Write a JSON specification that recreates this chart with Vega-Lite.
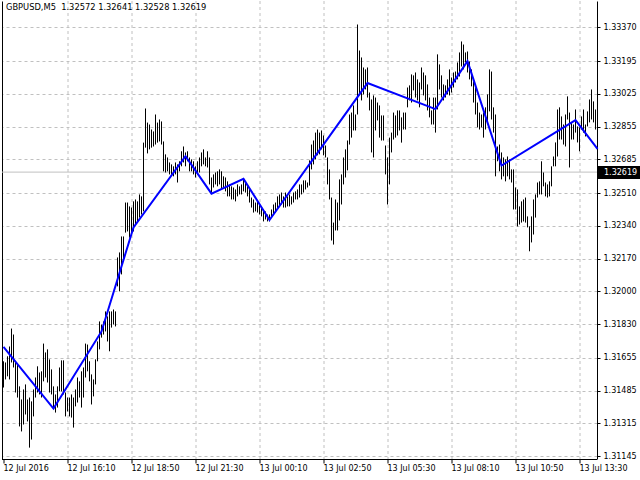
{
"$schema":"https://vega.github.io/schema/vega-lite/v6.json",
"width":595,"height":458,
"autosize":{"type":"none"},
"padding":{"left":2,"top":1,"right":43,"bottom":21},
"background":"#ffffff",
"title":{"text":"GBPUSD,M5\u00a0 1.32572 1.32641 1.32528 1.32619","anchor":"start","frame":"group","orient":"top","baseline":"top","offset":-10,"dx":4,"font":"DejaVu Sans","fontSize":8.3,"fontWeight":"normal","color":"#000000"},
"datasets":{
"bars":[
{"t":"2016-07-12T13:30","h":1.31637,"l":1.31501},{"t":"2016-07-12T13:35","h":1.31631,"l":1.31543},{"t":"2016-07-12T13:40","h":1.31663,"l":1.31559},{"t":"2016-07-12T13:45","h":1.31714,"l":1.31543},{"t":"2016-07-12T13:50","h":1.31807,"l":1.31631},{"t":"2016-07-12T13:55","h":1.31776,"l":1.31605},
{"t":"2016-07-12T14:00","h":1.31637,"l":1.31475},{"t":"2016-07-12T14:05","h":1.31621,"l":1.31449},{"t":"2016-07-12T14:10","h":1.31507,"l":1.31299},{"t":"2016-07-12T14:15","h":1.31439,"l":1.31273},{"t":"2016-07-12T14:20","h":1.31491,"l":1.31309},{"t":"2016-07-12T14:25","h":1.31517,"l":1.31361},
{"t":"2016-07-12T14:30","h":1.31439,"l":1.31325},{"t":"2016-07-12T14:35","h":1.31449,"l":1.31189},{"t":"2016-07-12T14:40","h":1.31429,"l":1.31231},{"t":"2016-07-12T14:45","h":1.31491,"l":1.31351},{"t":"2016-07-12T14:50","h":1.31553,"l":1.31449},{"t":"2016-07-12T14:55","h":1.31611,"l":1.31475},
{"t":"2016-07-12T15:00","h":1.31579,"l":1.31465},{"t":"2016-07-12T15:05","h":1.31585,"l":1.31449},{"t":"2016-07-12T15:10","h":1.31729,"l":1.31533},{"t":"2016-07-12T15:15","h":1.31683,"l":1.31553},{"t":"2016-07-12T15:20","h":1.31699,"l":1.31527},{"t":"2016-07-12T15:25","h":1.31647,"l":1.31475},
{"t":"2016-07-12T15:30","h":1.31595,"l":1.31465},{"t":"2016-07-12T15:35","h":1.31507,"l":1.31397},{"t":"2016-07-12T15:40","h":1.31465,"l":1.31371},{"t":"2016-07-12T15:45","h":1.31507,"l":1.31397},{"t":"2016-07-12T15:50","h":1.31605,"l":1.31481},{"t":"2016-07-12T15:55","h":1.31642,"l":1.31481},
{"t":"2016-07-12T16:00","h":1.31642,"l":1.31465},{"t":"2016-07-12T16:05","h":1.31475,"l":1.31351},{"t":"2016-07-12T16:10","h":1.31449,"l":1.31377},{"t":"2016-07-12T16:15","h":1.31449,"l":1.31351},{"t":"2016-07-12T16:20","h":1.31465,"l":1.31345},{"t":"2016-07-12T16:25","h":1.31449,"l":1.31293},
{"t":"2016-07-12T16:30","h":1.31491,"l":1.31403},{"t":"2016-07-12T16:35","h":1.31553,"l":1.31423},{"t":"2016-07-12T16:40","h":1.31533,"l":1.31449},{"t":"2016-07-12T16:45","h":1.31585,"l":1.31397},{"t":"2016-07-12T16:50","h":1.31605,"l":1.31449},{"t":"2016-07-12T16:55","h":1.31729,"l":1.31553},
{"t":"2016-07-12T17:00","h":1.31724,"l":1.31585},{"t":"2016-07-12T17:05","h":1.31637,"l":1.31533},{"t":"2016-07-12T17:10","h":1.31569,"l":1.31413},{"t":"2016-07-12T17:15","h":1.31543,"l":1.31455},{"t":"2016-07-12T17:20","h":1.31647,"l":1.31517},{"t":"2016-07-12T17:25","h":1.31740,"l":1.31637},
{"t":"2016-07-12T17:30","h":1.31844,"l":1.31699},{"t":"2016-07-12T17:35","h":1.31828,"l":1.31760},{"t":"2016-07-12T17:40","h":1.31844,"l":1.31776},{"t":"2016-07-12T17:45","h":1.31896,"l":1.31792},{"t":"2016-07-12T17:50","h":1.31870,"l":1.31740},{"t":"2016-07-12T17:55","h":1.31896,"l":1.31689},
{"t":"2016-07-12T18:00","h":1.31896,"l":1.31812},{"t":"2016-07-12T18:05","h":1.31906,"l":1.31828},{"t":"2016-07-12T18:10","h":1.31896,"l":1.31818},{"t":"2016-07-12T18:15","h":1.32176,"l":1.32026},{"t":"2016-07-12T18:20","h":1.32202,"l":1.32000},{"t":"2016-07-12T18:25","h":1.32285,"l":1.32088},
{"t":"2016-07-12T18:30","h":1.32285,"l":1.32156},{"t":"2016-07-12T18:35","h":1.32461,"l":1.32305},{"t":"2016-07-12T18:40","h":1.32461,"l":1.32311},{"t":"2016-07-12T18:45","h":1.32441,"l":1.32279},{"t":"2016-07-12T18:50","h":1.32435,"l":1.32305},{"t":"2016-07-12T18:55","h":1.32467,"l":1.32311},
{"t":"2016-07-12T19:00","h":1.32477,"l":1.32347},{"t":"2016-07-12T19:05","h":1.32467,"l":1.32363},{"t":"2016-07-12T19:10","h":1.32503,"l":1.32383},{"t":"2016-07-12T19:15","h":1.32493,"l":1.32399},{"t":"2016-07-12T19:20","h":1.32772,"l":1.32415},{"t":"2016-07-12T19:25","h":1.32949,"l":1.32746},
{"t":"2016-07-12T19:30","h":1.32876,"l":1.32716},{"t":"2016-07-12T19:35","h":1.32866,"l":1.32737},{"t":"2016-07-12T19:40","h":1.32840,"l":1.32746},{"t":"2016-07-12T19:45","h":1.32830,"l":1.32752},{"t":"2016-07-12T19:50","h":1.32918,"l":1.32762},{"t":"2016-07-12T19:55","h":1.32876,"l":1.32772},
{"t":"2016-07-12T20:00","h":1.32892,"l":1.32778},{"t":"2016-07-12T20:05","h":1.32882,"l":1.32762},{"t":"2016-07-12T20:10","h":1.32778,"l":1.32623},{"t":"2016-07-12T20:15","h":1.32711,"l":1.32617},{"t":"2016-07-12T20:20","h":1.32695,"l":1.32623},{"t":"2016-07-12T20:25","h":1.32669,"l":1.32607},
{"t":"2016-07-12T20:30","h":1.32659,"l":1.32607},{"t":"2016-07-12T20:35","h":1.32649,"l":1.32597},{"t":"2016-07-12T20:40","h":1.32669,"l":1.32607},{"t":"2016-07-12T20:45","h":1.32659,"l":1.32565},{"t":"2016-07-12T20:50","h":1.32675,"l":1.32623},{"t":"2016-07-12T20:55","h":1.32727,"l":1.32649},
{"t":"2016-07-12T21:00","h":1.32752,"l":1.32669},{"t":"2016-07-12T21:05","h":1.32721,"l":1.32649},{"t":"2016-07-12T21:10","h":1.32727,"l":1.32675},{"t":"2016-07-12T21:15","h":1.32695,"l":1.32623},{"t":"2016-07-12T21:20","h":1.32685,"l":1.32623},{"t":"2016-07-12T21:25","h":1.32675,"l":1.32607},
{"t":"2016-07-12T21:30","h":1.32649,"l":1.32591},{"t":"2016-07-12T21:35","h":1.32675,"l":1.32607},{"t":"2016-07-12T21:40","h":1.32695,"l":1.32617},{"t":"2016-07-12T21:45","h":1.32721,"l":1.32649},{"t":"2016-07-12T21:50","h":1.32737,"l":1.32659},{"t":"2016-07-12T21:55","h":1.32695,"l":1.32649},
{"t":"2016-07-12T22:00","h":1.32727,"l":1.32643},{"t":"2016-07-12T22:05","h":1.32695,"l":1.32555},{"t":"2016-07-12T22:10","h":1.32591,"l":1.32513},{"t":"2016-07-12T22:15","h":1.32607,"l":1.32539},{"t":"2016-07-12T22:20","h":1.32617,"l":1.32555},{"t":"2016-07-12T22:25","h":1.32623,"l":1.32545},
{"t":"2016-07-12T22:30","h":1.32633,"l":1.32555},{"t":"2016-07-12T22:35","h":1.32623,"l":1.32529},{"t":"2016-07-12T22:40","h":1.32597,"l":1.32539},{"t":"2016-07-12T22:45","h":1.32591,"l":1.32519},{"t":"2016-07-12T22:50","h":1.32571,"l":1.32493},{"t":"2016-07-12T22:55","h":1.32555,"l":1.32493},
{"t":"2016-07-12T23:00","h":1.32545,"l":1.32477},{"t":"2016-07-12T23:05","h":1.32539,"l":1.32477},{"t":"2016-07-12T23:10","h":1.32529,"l":1.32467},{"t":"2016-07-12T23:15","h":1.32555,"l":1.32493},{"t":"2016-07-12T23:20","h":1.32545,"l":1.32503},{"t":"2016-07-12T23:25","h":1.32555,"l":1.32503},
{"t":"2016-07-12T23:30","h":1.32581,"l":1.32519},{"t":"2016-07-12T23:35","h":1.32571,"l":1.32513},{"t":"2016-07-12T23:40","h":1.32555,"l":1.32493},{"t":"2016-07-12T23:45","h":1.32539,"l":1.32461},{"t":"2016-07-12T23:50","h":1.32487,"l":1.32435},{"t":"2016-07-12T23:55","h":1.32477,"l":1.32409},
{"t":"2016-07-13T00:00","h":1.32461,"l":1.32415},{"t":"2016-07-13T00:05","h":1.32467,"l":1.32409},{"t":"2016-07-13T00:10","h":1.32451,"l":1.32399},{"t":"2016-07-13T00:15","h":1.32441,"l":1.32389},{"t":"2016-07-13T00:20","h":1.32425,"l":1.32363},{"t":"2016-07-13T00:25","h":1.32415,"l":1.32373},
{"t":"2016-07-13T00:30","h":1.32399,"l":1.32363},{"t":"2016-07-13T00:35","h":1.32399,"l":1.32363},{"t":"2016-07-13T00:40","h":1.32425,"l":1.32389},{"t":"2016-07-13T00:45","h":1.32451,"l":1.32399},{"t":"2016-07-13T00:50","h":1.32461,"l":1.32409},{"t":"2016-07-13T00:55","h":1.32493,"l":1.32425},
{"t":"2016-07-13T01:00","h":1.32503,"l":1.32441},{"t":"2016-07-13T01:05","h":1.32513,"l":1.32451},{"t":"2016-07-13T01:10","h":1.32493,"l":1.32435},{"t":"2016-07-13T01:15","h":1.32513,"l":1.32435},{"t":"2016-07-13T01:20","h":1.32493,"l":1.32441},{"t":"2016-07-13T01:25","h":1.32503,"l":1.32441},
{"t":"2016-07-13T01:30","h":1.32493,"l":1.32451},{"t":"2016-07-13T01:35","h":1.32513,"l":1.32461},{"t":"2016-07-13T01:40","h":1.32519,"l":1.32477},{"t":"2016-07-13T01:45","h":1.32529,"l":1.32477},{"t":"2016-07-13T01:50","h":1.32555,"l":1.32487},{"t":"2016-07-13T01:55","h":1.32555,"l":1.32503},
{"t":"2016-07-13T02:00","h":1.32576,"l":1.32513},{"t":"2016-07-13T02:05","h":1.32576,"l":1.32529},{"t":"2016-07-13T02:10","h":1.32565,"l":1.32539},{"t":"2016-07-13T02:15","h":1.32680,"l":1.32549},{"t":"2016-07-13T02:20","h":1.32762,"l":1.32633},{"t":"2016-07-13T02:25","h":1.32783,"l":1.32659},
{"t":"2016-07-13T02:30","h":1.32824,"l":1.32685},{"t":"2016-07-13T02:35","h":1.32840,"l":1.32706},{"t":"2016-07-13T02:40","h":1.32824,"l":1.32711},{"t":"2016-07-13T02:45","h":1.32835,"l":1.32737},{"t":"2016-07-13T02:50","h":1.32809,"l":1.32706},{"t":"2016-07-13T02:55","h":1.32757,"l":1.32695},
{"t":"2016-07-13T03:00","h":1.32695,"l":1.32555},{"t":"2016-07-13T03:05","h":1.32633,"l":1.32477},{"t":"2016-07-13T03:10","h":1.32487,"l":1.32264},{"t":"2016-07-13T03:15","h":1.32357,"l":1.32243},{"t":"2016-07-13T03:20","h":1.32477,"l":1.32316},{"t":"2016-07-13T03:25","h":1.32461,"l":1.32316},
{"t":"2016-07-13T03:30","h":1.32581,"l":1.32368},{"t":"2016-07-13T03:35","h":1.32607,"l":1.32451},{"t":"2016-07-13T03:40","h":1.32695,"l":1.32555},{"t":"2016-07-13T03:45","h":1.32737,"l":1.32591},{"t":"2016-07-13T03:50","h":1.32783,"l":1.32628},{"t":"2016-07-13T03:55","h":1.32918,"l":1.32762},
{"t":"2016-07-13T04:00","h":1.32928,"l":1.32798},{"t":"2016-07-13T04:05","h":1.32965,"l":1.32835},{"t":"2016-07-13T04:10","h":1.32918,"l":1.32835},{"t":"2016-07-13T04:15","h":1.33385,"l":1.32918},{"t":"2016-07-13T04:20","h":1.33250,"l":1.33022},{"t":"2016-07-13T04:25","h":1.33214,"l":1.32991},
{"t":"2016-07-13T04:30","h":1.33162,"l":1.33022},{"t":"2016-07-13T04:35","h":1.33152,"l":1.33048},{"t":"2016-07-13T04:40","h":1.33162,"l":1.33006},{"t":"2016-07-13T04:45","h":1.33032,"l":1.32939},{"t":"2016-07-13T04:50","h":1.32996,"l":1.32721},{"t":"2016-07-13T04:55","h":1.33017,"l":1.32695},
{"t":"2016-07-13T05:00","h":1.33006,"l":1.32835},{"t":"2016-07-13T05:05","h":1.32980,"l":1.32887},{"t":"2016-07-13T05:10","h":1.32965,"l":1.32798},{"t":"2016-07-13T05:15","h":1.32913,"l":1.32783},{"t":"2016-07-13T05:20","h":1.32913,"l":1.32783},{"t":"2016-07-13T05:25","h":1.32757,"l":1.32607},
{"t":"2016-07-13T05:30","h":1.32695,"l":1.32451},{"t":"2016-07-13T05:35","h":1.32798,"l":1.32555},{"t":"2016-07-13T05:40","h":1.32824,"l":1.32721},{"t":"2016-07-13T05:45","h":1.32928,"l":1.32788},{"t":"2016-07-13T05:50","h":1.32913,"l":1.32798},{"t":"2016-07-13T05:55","h":1.32939,"l":1.32809},
{"t":"2016-07-13T06:00","h":1.32939,"l":1.32835},{"t":"2016-07-13T06:05","h":1.32903,"l":1.32772},{"t":"2016-07-13T06:10","h":1.32928,"l":1.32840},{"t":"2016-07-13T06:15","h":1.32928,"l":1.32840},{"t":"2016-07-13T06:20","h":1.33058,"l":1.32955},{"t":"2016-07-13T06:25","h":1.33069,"l":1.32991},
{"t":"2016-07-13T06:30","h":1.33126,"l":1.32980},{"t":"2016-07-13T06:35","h":1.33121,"l":1.33043},{"t":"2016-07-13T06:40","h":1.33136,"l":1.33006},{"t":"2016-07-13T06:45","h":1.33100,"l":1.32991},{"t":"2016-07-13T06:50","h":1.33084,"l":1.32955},{"t":"2016-07-13T06:55","h":1.33162,"l":1.33048},
{"t":"2016-07-13T07:00","h":1.33136,"l":1.33017},{"t":"2016-07-13T07:05","h":1.33121,"l":1.32991},{"t":"2016-07-13T07:10","h":1.33074,"l":1.32939},{"t":"2016-07-13T07:15","h":1.33006,"l":1.32903},{"t":"2016-07-13T07:20","h":1.32939,"l":1.32866},{"t":"2016-07-13T07:25","h":1.33006,"l":1.32866},
{"t":"2016-07-13T07:30","h":1.33006,"l":1.32824},{"t":"2016-07-13T07:35","h":1.33230,"l":1.32944},{"t":"2016-07-13T07:40","h":1.33178,"l":1.33048},{"t":"2016-07-13T07:45","h":1.33121,"l":1.33006},{"t":"2016-07-13T07:50","h":1.33074,"l":1.32991},{"t":"2016-07-13T07:55","h":1.33069,"l":1.33006},
{"t":"2016-07-13T08:00","h":1.33100,"l":1.33022},{"t":"2016-07-13T08:05","h":1.33152,"l":1.33017},{"t":"2016-07-13T08:10","h":1.33110,"l":1.33032},{"t":"2016-07-13T08:15","h":1.33136,"l":1.33058},{"t":"2016-07-13T08:20","h":1.33141,"l":1.33084},{"t":"2016-07-13T08:25","h":1.33188,"l":1.33100},
{"t":"2016-07-13T08:30","h":1.33240,"l":1.33115},{"t":"2016-07-13T08:35","h":1.33297,"l":1.33167},{"t":"2016-07-13T08:40","h":1.33281,"l":1.33152},{"t":"2016-07-13T08:45","h":1.33240,"l":1.33188},{"t":"2016-07-13T08:50","h":1.33245,"l":1.33136},{"t":"2016-07-13T08:55","h":1.33193,"l":1.33100},
{"t":"2016-07-13T09:00","h":1.33152,"l":1.33064},{"t":"2016-07-13T09:05","h":1.33090,"l":1.32980},{"t":"2016-07-13T09:10","h":1.33058,"l":1.32918},{"t":"2016-07-13T09:15","h":1.32980,"l":1.32851},{"t":"2016-07-13T09:20","h":1.32928,"l":1.32840},{"t":"2016-07-13T09:25","h":1.32918,"l":1.32851},
{"t":"2016-07-13T09:30","h":1.32928,"l":1.32798},{"t":"2016-07-13T09:35","h":1.32955,"l":1.32840},{"t":"2016-07-13T09:40","h":1.33022,"l":1.32877},{"t":"2016-07-13T09:45","h":1.33152,"l":1.32934},{"t":"2016-07-13T09:50","h":1.33141,"l":1.32892},{"t":"2016-07-13T09:55","h":1.32955,"l":1.32824},
{"t":"2016-07-13T10:00","h":1.32918,"l":1.32597},{"t":"2016-07-13T10:05","h":1.32752,"l":1.32675},{"t":"2016-07-13T10:10","h":1.32762,"l":1.32623},{"t":"2016-07-13T10:15","h":1.32721,"l":1.32581},{"t":"2016-07-13T10:20","h":1.32695,"l":1.32597},{"t":"2016-07-13T10:25","h":1.32685,"l":1.32571},
{"t":"2016-07-13T10:30","h":1.32700,"l":1.32597},{"t":"2016-07-13T10:35","h":1.32685,"l":1.32581},{"t":"2016-07-13T10:40","h":1.32633,"l":1.32565},{"t":"2016-07-13T10:45","h":1.32633,"l":1.32425},{"t":"2016-07-13T10:50","h":1.32539,"l":1.32425},{"t":"2016-07-13T10:55","h":1.32529,"l":1.32337},
{"t":"2016-07-13T11:00","h":1.32441,"l":1.32347},{"t":"2016-07-13T11:05","h":1.32467,"l":1.32357},{"t":"2016-07-13T11:10","h":1.32477,"l":1.32363},{"t":"2016-07-13T11:15","h":1.32487,"l":1.32357},{"t":"2016-07-13T11:20","h":1.32389,"l":1.32332},{"t":"2016-07-13T11:25","h":1.32337,"l":1.32208},
{"t":"2016-07-13T11:30","h":1.32389,"l":1.32254},{"t":"2016-07-13T11:35","h":1.32477,"l":1.32295},{"t":"2016-07-13T11:40","h":1.32503,"l":1.32383},{"t":"2016-07-13T11:45","h":1.32565,"l":1.32487},{"t":"2016-07-13T11:50","h":1.32571,"l":1.32503},{"t":"2016-07-13T11:55","h":1.32675,"l":1.32503},
{"t":"2016-07-13T12:00","h":1.32617,"l":1.32545},{"t":"2016-07-13T12:05","h":1.32565,"l":1.32493},{"t":"2016-07-13T12:10","h":1.32555,"l":1.32487},{"t":"2016-07-13T12:15","h":1.32571,"l":1.32493},{"t":"2016-07-13T12:20","h":1.32649,"l":1.32545},{"t":"2016-07-13T12:25","h":1.32700,"l":1.32649},
{"t":"2016-07-13T12:30","h":1.32773,"l":1.32649},{"t":"2016-07-13T12:35","h":1.32944,"l":1.32700},{"t":"2016-07-13T12:40","h":1.32955,"l":1.32788},{"t":"2016-07-13T12:45","h":1.32908,"l":1.32788},{"t":"2016-07-13T12:50","h":1.32866,"l":1.32762},{"t":"2016-07-13T12:55","h":1.32918,"l":1.32752},
{"t":"2016-07-13T13:00","h":1.33012,"l":1.32892},{"t":"2016-07-13T13:05","h":1.32928,"l":1.32643},{"t":"2016-07-13T13:10","h":1.32877,"l":1.32788},{"t":"2016-07-13T13:15","h":1.32866,"l":1.32788},{"t":"2016-07-13T13:20","h":1.32944,"l":1.32824},{"t":"2016-07-13T13:25","h":1.32856,"l":1.32773},
{"t":"2016-07-13T13:30","h":1.32851,"l":1.32727},{"t":"2016-07-13T13:35","h":1.32908,"l":1.32840},{"t":"2016-07-13T13:40","h":1.32944,"l":1.32824},{"t":"2016-07-13T13:45","h":1.32866,"l":1.32804},{"t":"2016-07-13T13:50","h":1.32934,"l":1.32856},{"t":"2016-07-13T13:55","h":1.32996,"l":1.32877},
{"t":"2016-07-13T14:00","h":1.33048,"l":1.32892},{"t":"2016-07-13T14:05","h":1.32986,"l":1.32877},{"t":"2016-07-13T14:10","h":1.32944,"l":1.32840},{"t":"2016-07-13T14:15","h":1.32641,"l":1.32528}
],
"zz":[
{"t":"2016-07-12T13:30","p":1.31712},{"t":"2016-07-12T15:35","p":1.31392},{"t":"2016-07-12T17:35","p":1.31792},{"t":"2016-07-12T18:55","p":1.32332},{"t":"2016-07-12T21:05","p":1.32702},{"t":"2016-07-12T22:10","p":1.32507},{"t":"2016-07-12T23:30","p":1.32584},{"t":"2016-07-13T00:35","p":1.32370},{"t":"2016-07-13T04:40","p":1.33081},{"t":"2016-07-13T07:30","p":1.32946},{"t":"2016-07-13T08:50","p":1.33195},{"t":"2016-07-13T10:15","p":1.32653},{"t":"2016-07-13T13:20","p":1.32889},{"t":"2016-07-13T14:15","p":1.32740}
],
"last":[{"price":1.32619}]
},
"layer":[
{"data":{"name":"last"},
 "mark":{"type":"rule","color":"#c0c0c0","strokeWidth":1},
 "encoding":{
  "y":{"field":"price","type":"quantitative","scale":{"domain":[1.31130,1.33507],"zero":false,"nice":false},
   "axis":{"orient":"right","values":[1.32619],"format":".5f","title":null,"domain":false,"grid":false,"ticks":true,"tickSize":43,"tickWidth":13,"tickColor":"#000000","tickCap":"butt","labelColor":"#ffffff","labelPadding":-36.5,"labelFont":"DejaVu Sans","labelFontSize":8,"labelOverlap":false,"labelBound":false,"labelAlign":"left","labelBaseline":"middle"}}
 }},
{"data":{"name":"bars"},
 "mark":{"type":"rule","color":"#000000","strokeWidth":1},
 "encoding":{
  "x":{"field":"t","type":"temporal",
   "scale":{"domain":[{"year":2016,"month":7,"date":12,"hours":13,"minutes":26,"seconds":15},{"year":2016,"month":7,"date":13,"hours":14,"minutes":13,"seconds":45}],"nice":false},
   "axis":{"orient":"bottom","title":null,"translate":0,"offset":0.5,
    "values":[
     {"year":2016,"month":7,"date":12,"hours":13,"minutes":30},{"year":2016,"month":7,"date":12,"hours":14,"minutes":50},{"year":2016,"month":7,"date":12,"hours":16,"minutes":10},{"year":2016,"month":7,"date":12,"hours":17,"minutes":30},{"year":2016,"month":7,"date":12,"hours":18,"minutes":50},{"year":2016,"month":7,"date":12,"hours":20,"minutes":10},{"year":2016,"month":7,"date":12,"hours":21,"minutes":30},{"year":2016,"month":7,"date":12,"hours":22,"minutes":50},{"year":2016,"month":7,"date":13,"hours":0,"minutes":10},{"year":2016,"month":7,"date":13,"hours":1,"minutes":30},{"year":2016,"month":7,"date":13,"hours":2,"minutes":50},{"year":2016,"month":7,"date":13,"hours":4,"minutes":10},{"year":2016,"month":7,"date":13,"hours":5,"minutes":30},{"year":2016,"month":7,"date":13,"hours":6,"minutes":50},{"year":2016,"month":7,"date":13,"hours":8,"minutes":10},{"year":2016,"month":7,"date":13,"hours":9,"minutes":30},{"year":2016,"month":7,"date":13,"hours":10,"minutes":50},{"year":2016,"month":7,"date":13,"hours":12,"minutes":10},{"year":2016,"month":7,"date":13,"hours":13,"minutes":30}],
    "labelExpr":"((time(datum.value) - time(datetime(2016,6,12,13,30))) % 9600000 == 0) ? (time(datum.value) == time(datetime(2016,6,12,13,30)) ? '12 Jul 2016' : timeFormat(datum.value, '%d %b %H:%M')) : ''",
    "domain":true,"domainColor":"#000000","domainWidth":1,
    "ticks":true,"tickSize":4,"tickColor":"#000000",
    "tickOpacity":{"condition":{"test":"(time(datum.value) - time(datetime(2016,6,12,13,30))) % 9600000 == 0","value":1},"value":0},
    "grid":true,"gridColor":"#c0c0c0","gridDash":[3,3],"gridWidth":1,
    "gridOpacity":{"condition":{"test":"time(datum.value) == time(datetime(2016,6,12,13,30))","value":0},"value":1},
    "labelAlign":"left","labelBaseline":"top","labelPadding":1,"labelFlush":false,"labelOverlap":false,"labelBound":false,
    "labelFont":"DejaVu Sans","labelFontSize":8,"labelColor":"#000000"}},
  "y":{"field":"h","type":"quantitative","scale":{"domain":[1.31130,1.33507],"zero":false,"nice":false},
   "axis":{"orient":"right","title":null,"values":[1.31145,1.31315,1.31485,1.31655,1.3183,1.32,1.3217,1.3234,1.3251,1.32685,1.32855,1.33025,1.33195,1.3337],"format":".5f",
    "domain":true,"domainColor":"#000000","domainWidth":1,
    "ticks":true,"tickSize":3,"tickColor":"#000000",
    "grid":true,"gridColor":"#c0c0c0","gridDash":[3,3],"gridWidth":1,
    "labelPadding":3,"labelOverlap":false,"labelBound":false,"labelFont":"DejaVu Sans","labelFontSize":8,"labelColor":"#000000","labelBaseline":"middle"}},
  "y2":{"field":"l"}
 }},
{"data":{"name":"zz"},
 "mark":{"type":"line","color":"#0000ff","strokeWidth":2},
 "encoding":{
  "x":{"field":"t","type":"temporal","scale":{"domain":[{"year":2016,"month":7,"date":12,"hours":13,"minutes":26,"seconds":15},{"year":2016,"month":7,"date":13,"hours":14,"minutes":13,"seconds":45}],"nice":false}},
  "y":{"field":"p","type":"quantitative","scale":{"domain":[1.31130,1.33507],"zero":false,"nice":false},
   "axis":{"orient":"left","title":null,"labels":false,"ticks":false,"grid":false,"domain":true,"domainColor":"#000000","domainWidth":1}}
 }}
],
"resolve":{"axis":{"y":"independent"}},
"config":{"view":{"stroke":null},"axis":{"labelFont":"DejaVu Sans","labelFontSize":8,"labelColor":"#000000"}}
}
